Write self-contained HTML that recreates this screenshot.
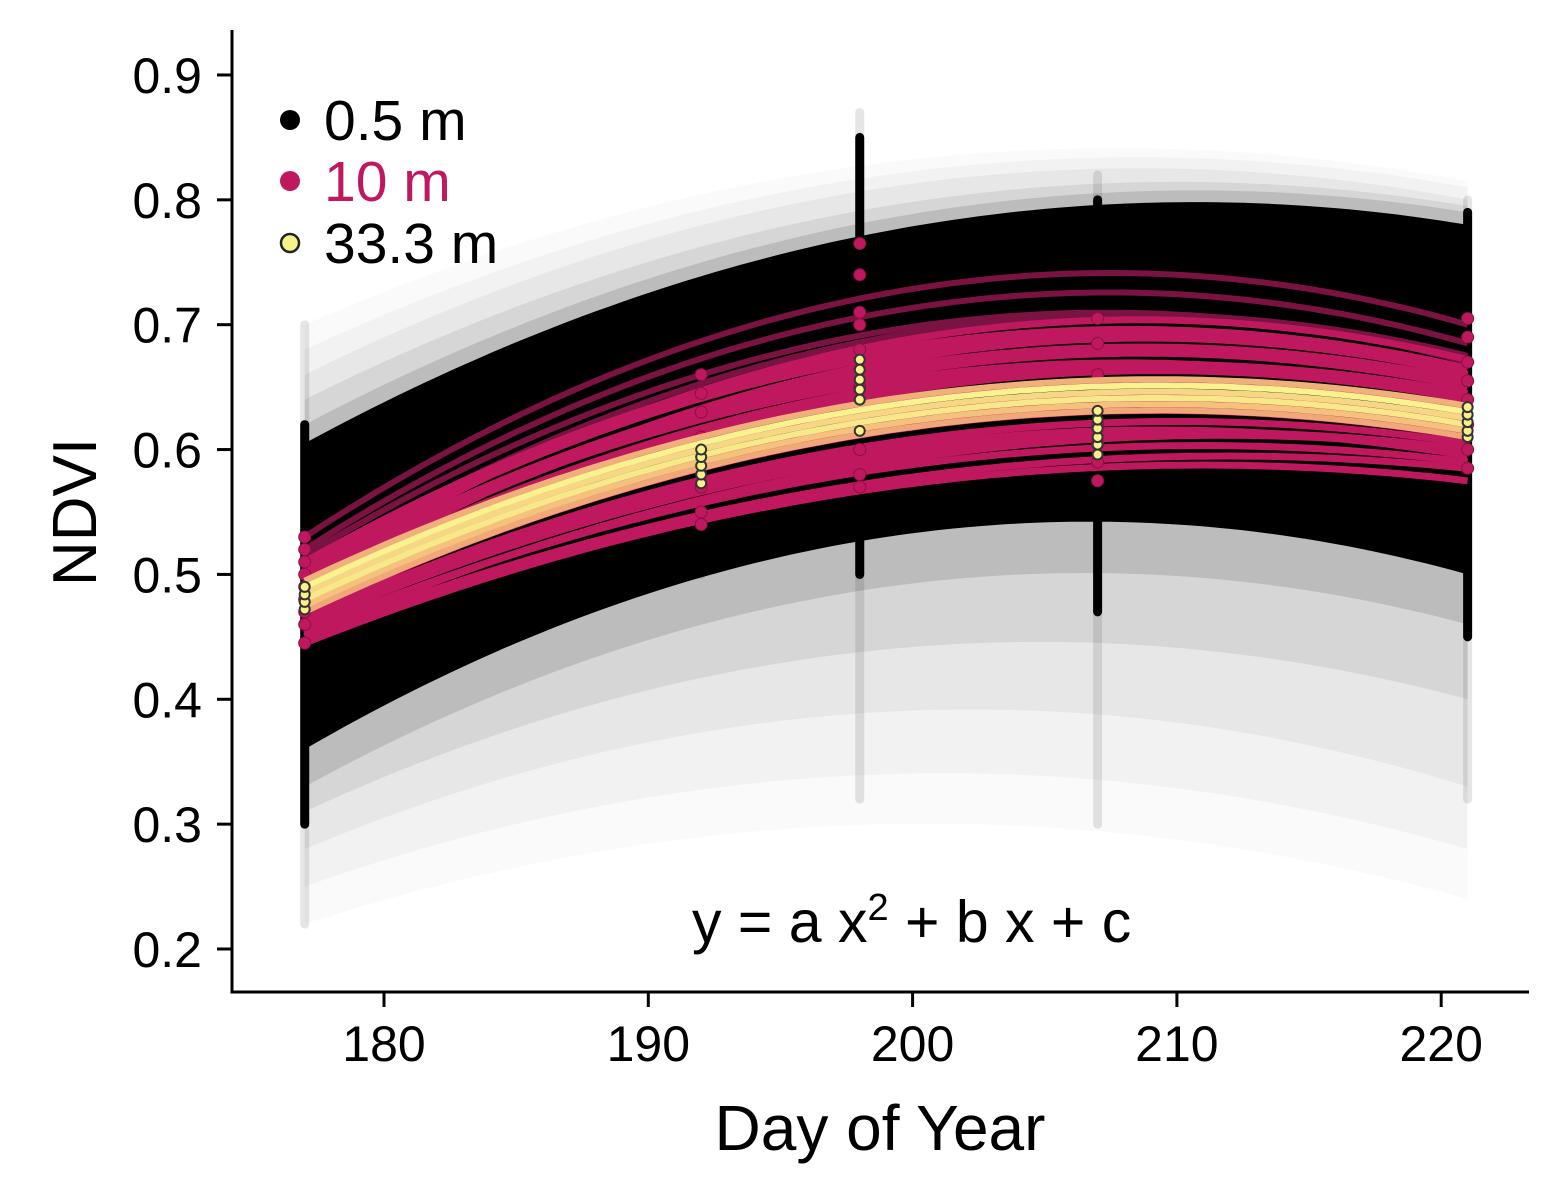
<!DOCTYPE html>
<html><head><meta charset="utf-8">
<style>
html,body{margin:0;padding:0;background:#fff;}
svg{display:block;font-family:"Liberation Sans",Arial,sans-serif;}
</style></head>
<body>
<svg id="chart" width="1560" height="1200" viewBox="0 0 1560 1200" xmlns="http://www.w3.org/2000/svg">
<defs><clipPath id="plotclip"><rect x="233" y="30" width="1296" height="961"/></clipPath></defs>
<g id="plot" clip-path="url(#plotclip)"></g>
<g id="axes"></g>
<g id="legend">
  <circle cx="290" cy="120" r="10" fill="#000"/>
  <text x="324" y="140" font-size="57" fill="#000">0.5 m</text>
  <circle cx="290" cy="181" r="10" fill="#c0185e"/>
  <text x="324" y="201" font-size="57" fill="#c0185e">10 m</text>
  <circle cx="290" cy="243" r="9" fill="#f8f28a" stroke="#222" stroke-width="2.5"/>
  <text x="324" y="263" font-size="57" fill="#000">33.3 m</text>
</g>
<text x="692" y="942" font-size="59" fill="#000">y = a x<tspan dy="-22" font-size="38">2</tspan><tspan dy="22"> + b x + c</tspan></text>
<text x="880" y="1150" font-size="64" text-anchor="middle">Day of Year</text>
<text transform="translate(96,512) rotate(-90)" font-size="62" text-anchor="middle">NDVI</text>
</svg>
<script>
// ---- data ----
const knotDays = [177, 199, 221];
const xTicks = [180, 190, 200, 210, 220];
const yTicks = [0.2, 0.3, 0.4, 0.5, 0.6, 0.7, 0.8, 0.9];
const yTickLabels = ["0.2","0.3","0.4","0.5","0.6","0.7","0.8","0.9"];
const obsDays = [177, 192, 198, 207, 221];
// black (0.5 m) envelope bands: lower / upper at knotDays
const bandLower = [[0.22,0.30,0.24],[0.25,0.34,0.28],[0.28,0.39,0.33],[0.31,0.44,0.40],[0.33,0.49,0.46],[0.36,0.53,0.50]];
const bandUpper = [[0.70,0.83,0.815],[0.68,0.82,0.81],[0.66,0.81,0.80],[0.64,0.795,0.795],[0.62,0.785,0.79],[0.605,0.775,0.78]];
const bandOpacity = [0.02,0.03,0.045,0.07,0.12,1];
// black point streaks
const streakFaintLo = [0.22,0.50,0.32,0.30,0.32];
const streakFaintHi = [0.70,0.69,0.87,0.82,0.80];
const streakDenseLo = [0.30,0.51,0.50,0.47,0.45];
const streakDenseHi = [0.62,0.68,0.85,0.80,0.79];
// pink (10 m) curves at knotDays
const pinkDark = [[0.53,0.725,0.70],[0.52,0.71,0.685],[0.515,0.695,0.67],[0.505,0.69,0.675]];
const pinkBright = [[0.45,0.575,0.585],[0.455,0.585,0.59],[0.46,0.595,0.60],[0.465,0.605,0.605],[0.47,0.615,0.61],[0.475,0.625,0.62],[0.48,0.635,0.63],[0.485,0.645,0.64],[0.49,0.65,0.645],[0.495,0.66,0.65],[0.50,0.665,0.655],[0.505,0.675,0.66],[0.51,0.68,0.665],[0.445,0.57,0.575],[0.46,0.60,0.595],[0.50,0.655,0.64],[0.488,0.67,0.66],[0.498,0.685,0.672],[0.452,0.59,0.60],[0.468,0.62,0.615]];
// yellow (33.3 m) curves
const yellowCurves = [[0.47,0.615,0.61],[0.475,0.62,0.615],[0.48,0.625,0.62],[0.485,0.63,0.625],[0.49,0.635,0.63],[0.495,0.64,0.635]];
const yellowColors = ["#f0a878","#f4c27c","#f7e88a","#f6d884","#f9f28e","#efb07a"];
// observed points
const pinkPts = [[0.445,0.46,0.47,0.48,0.49,0.50,0.51,0.52,0.53],[0.54,0.55,0.57,0.59,0.61,0.63,0.645,0.66],[0.57,0.58,0.60,0.62,0.65,0.68,0.70,0.71,0.74,0.765],[0.575,0.59,0.605,0.62,0.64,0.66,0.685,0.705],[0.585,0.60,0.62,0.64,0.655,0.67,0.69,0.705]];
const yellowPts = [[0.472,0.478,0.484,0.49],[0.573,0.58,0.587,0.594,0.60],[0.615,0.64,0.648,0.656,0.664,0.672],[0.596,0.604,0.61,0.617,0.624,0.631],[0.61,0.615,0.622,0.628,0.634]];

// ---- scales ----
const X = d => 384 + (d - 180) * 26.43;
const Y = v => 949 - (v - 0.2) * 1248.6;
const NS = "http://www.w3.org/2000/svg";
const plot = document.getElementById('plot');
const axes = document.getElementById('axes');
function mk(tag, attrs, parent){const e=document.createElementNS(NS,tag);for(const k in attrs)e.setAttribute(k,attrs[k]);parent.appendChild(e);return e;}
function quad(vals, d){
  const [x0,x1,x2]=knotDays,[y0,y1,y2]=vals;
  return y0*(d-x1)*(d-x2)/((x0-x1)*(x0-x2))+y1*(d-x0)*(d-x2)/((x1-x0)*(x1-x2))+y2*(d-x0)*(d-x1)/((x2-x0)*(x2-x1));
}
function curvePts(vals){const p=[];for(let d=177;d<=221.001;d+=0.5)p.push(X(d).toFixed(1)+','+Y(quad(vals,d)).toFixed(1));return p;}

// bands
bandLower.forEach((lo,i)=>{
  const up=curvePts(bandUpper[i]), dn=curvePts(lo).reverse();
  const e=mk('path',{d:'M'+up.join('L')+'L'+dn.join('L')+'Z',fill:'#000','fill-opacity':bandOpacity[i]},plot);
  
  
});
// streaks
obsDays.forEach((d,i)=>{
  const a=mk('line',{x1:X(d),x2:X(d),y1:Y(streakFaintLo[i]),y2:Y(streakFaintHi[i]),stroke:'#000','stroke-opacity':0.1,'stroke-width':9,'stroke-linecap':'round'},plot);
  
  
  const b=mk('line',{x1:X(d),x2:X(d),y1:Y(streakDenseLo[i]),y2:Y(streakDenseHi[i]),stroke:'#000','stroke-width':9,'stroke-linecap':'round'},plot);
  
  
});
// pink curves
pinkDark.forEach(v=>{
  const e=mk('polyline',{points:curvePts(v).join(' '),fill:'none',stroke:'#7a1242','stroke-width':6},plot);
  
  
});
pinkBright.forEach(v=>{
  const e=mk('polyline',{points:curvePts(v).join(' '),fill:'none',stroke:'#c0185e','stroke-width':7},plot);
  
  
});
// pink points
obsDays.forEach((d,i)=>pinkPts[i].forEach(v=>{
  const e=mk('circle',{cx:X(d),cy:Y(v),r:6,fill:'#c0185e',stroke:'#8a1045','stroke-width':1},plot);
  
  
}));
// yellow curves
yellowCurves.forEach((v,i)=>{
  const e=mk('polyline',{points:curvePts(v).join(' '),fill:'none',stroke:yellowColors[i],'stroke-width':6},plot);
  
  
});
obsDays.forEach((d,i)=>yellowPts[i].forEach(v=>{
  const e=mk('circle',{cx:X(d),cy:Y(v),r:5,fill:'#f8f08a',stroke:'#333','stroke-width':2},plot);
  
  
}));

// axes
const xl=mk('line',{x1:232,x2:1529,y1:992,y2:992,stroke:'#000','stroke-width':3},axes);


const yl=mk('line',{x1:232,x2:232,y1:30,y2:993.5,stroke:'#000','stroke-width':3},axes);


xTicks.forEach(t=>{
  const k=mk('line',{x1:X(t),x2:X(t),y1:992,y2:1007,stroke:'#000','stroke-width':3},axes);
  
  
  const l=mk('text',{x:X(t),y:1061,'font-size':50,'text-anchor':'middle'},axes);
  l.textContent=String(t);
  
  
});
yTicks.forEach((t,i)=>{
  const k=mk('line',{x1:217,x2:232,y1:Y(t),y2:Y(t),stroke:'#000','stroke-width':3},axes);
  
  
  const l=mk('text',{x:202,y:Y(t)+18,'font-size':50,'text-anchor':'end'},axes);
  l.textContent=yTickLabels[i];
  
  
});
</script>
</body></html>
